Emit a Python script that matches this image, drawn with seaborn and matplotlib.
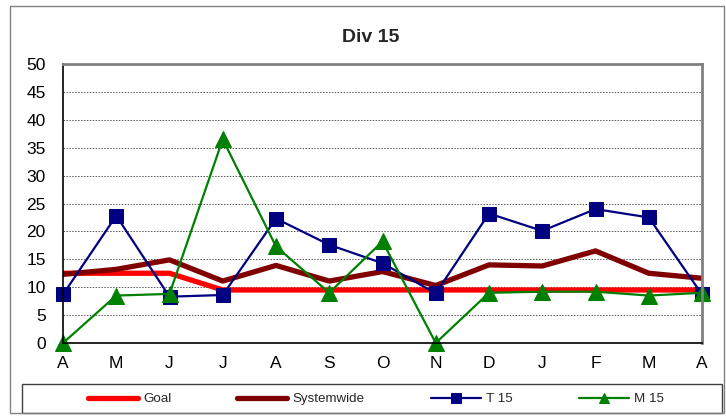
import matplotlib
matplotlib.use("Agg")
import matplotlib.pyplot as plt
from matplotlib.patches import Rectangle
import numpy as np
import pandas as pd
import seaborn as sns

months = ["A", "M", "J", "J", "A", "S", "O", "N", "D", "J", "F", "M", "A"]
goal = [12.5, 12.5, 12.5, 9.5, 9.5, 9.5, 9.5, 9.5, 9.5, 9.5, 9.5, 9.5, 9.5]
systemwide = [12.3, 13.2, 14.9, 11.1, 13.9, 11.1, 12.8, 10.3, 14.0, 13.8, 16.5, 12.5, 11.6]
t15 = [8.7, 22.8, 8.3, 8.6, 22.3, 17.6, 14.3, 8.9, 23.2, 20.1, 24.0, 22.5, 8.7]
m15 = [0.0, 8.5, 8.8, 36.5, 17.3, 9.0, 18.2, 0.0, 9.0, 9.2, 9.2, 8.5, 9.0]

sns.set_theme(style="white")
plt.rcParams["font.family"] = ["Liberation Sans", "DejaVu Sans"]

W, H = 726, 419
fig = plt.figure(figsize=(W / 100, H / 100), dpi=100)
fig.patch.set_facecolor("white")
ax = fig.add_axes([63 / W, 1 - 343 / H, (702 - 63) / W, (343 - 64) / H])

x = np.arange(len(months))
df = pd.DataFrame({"x": x, "Goal": goal, "Systemwide": systemwide,
                   "T 15": t15, "M 15": m15})

sns.lineplot(data=df, x="x", y="Goal", ax=ax, color="#FF0000", lw=3.8,
             label="Goal", zorder=2)
sns.lineplot(data=df, x="x", y="Systemwide", ax=ax, color="#800000", lw=3.8,
             label="Systemwide", zorder=3)
sns.lineplot(data=df, x="x", y="T 15", ax=ax, color="#000080", lw=1.6,
             marker="s", markersize=10, markeredgecolor="#000080",
             label="T 15", zorder=4, clip_on=False)
sns.lineplot(data=df, x="x", y="M 15", ax=ax, color="#008000", lw=1.6,
             marker="^", markersize=11, markeredgecolor="#008000",
             label="M 15", zorder=5, clip_on=False)

ax.set_xlim(0, len(months) - 1)
ax.set_ylim(0, 50)
ax.set_xticks(x)
ax.set_xticklabels(months)
ax.set_yticks(np.arange(0, 51, 5))
ax.set_xlabel("")
ax.set_ylabel("")
ax.tick_params(axis="both", colors="black", length=4.5,
               width=1, direction="out")
ax.tick_params(axis="y", pad=8)
ax.tick_params(axis="x", pad=5)
ax.grid(axis="y", color="#555555", linestyle=(0, (1.5, 1.5)), linewidth=0.7)
ax.set_axisbelow(True)
for side in ["left", "bottom"]:
    ax.spines[side].set_color("black")
    ax.spines[side].set_linewidth(1.2)
for side in ["top", "right"]:
    ax.spines[side].set_color("#808080")
    ax.spines[side].set_linewidth(2)
for side in ax.spines:
    ax.spines[side].set_zorder(10)
for lbl in ax.get_xticklabels() + ax.get_yticklabels():
    lbl.set_fontsize(12.5)

ax.legend_.remove()
handles, labels = ax.get_legend_handles_labels()
leg = fig.legend(handles, labels, ncol=4, loc="center",
                 bbox_to_anchor=(376 / W, 1 - 399 / H),
                 frameon=False, fontsize=9.6, handlelength=3.75,
                 handletextpad=0.4, columnspacing=4.95, markerscale=0.7)

# legend frame spanning the chart width
fig.patches.append(Rectangle((22 / W, 1 - 413 / H), (722 - 22) / W, 29 / H,
                             transform=fig.transFigure, fill=False,
                             edgecolor="#404040", linewidth=1))

fig.text(371 / W, 1 - 38 / H, "Div 15", ha="center", va="center",
         fontsize=14, fontweight="bold")

fig.patches.append(Rectangle((10 / W, 6 / H), (724 - 10) / W, (413 - 6) / H,
                             transform=fig.transFigure, fill=False,
                             edgecolor="#808080", linewidth=1))

fig.savefig("out.png", dpi=100)
